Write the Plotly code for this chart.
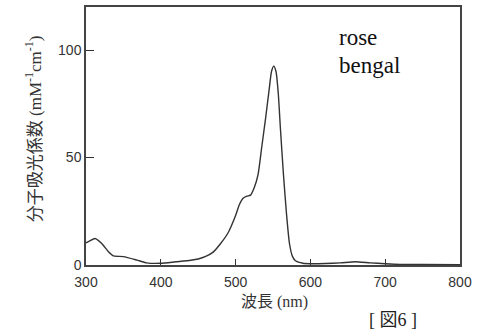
import plotly.graph_objects as go

wavelength = [300, 305, 312, 321, 330, 337, 350, 368, 381, 400, 420, 440, 450, 460, 470, 480,
              490, 500, 505, 510, 515, 520, 525, 530, 535, 540, 545, 548, 551, 554, 557, 560,
              564, 568, 572, 576, 580, 590, 600, 620, 640, 660, 680, 700, 720, 750, 800]
epsilon = [10.3, 11.2, 12.3, 10.0, 6.2, 4.2, 3.9, 2.3, 1.0, 0.8, 1.5, 2.2, 2.8, 4.0, 6.0, 10.0,
           15.0, 23.0, 28.0, 31.0, 32.0, 32.5, 36.0, 42.0, 55.0, 68.0, 82.0, 90.0, 92.5, 90.0, 80.0, 63.0,
           42.0, 24.0, 10.0, 4.0, 2.0, 0.8, 0.6, 0.7, 1.0, 1.5, 1.0, 0.6, 0.3, 0.2, 0.1]

x_ticks = [300, 400, 500, 600, 700, 800]
y_ticks = [0, 50, 100]

fig = go.Figure()
fig.add_trace(go.Scatter(x=wavelength, y=epsilon, mode="lines",
                         line=dict(color="#333333", width=1.4, shape="spline", smoothing=0.6),
                         hoverinfo="skip", showlegend=False))

axis_common = dict(showgrid=False, zeroline=False, showline=True, linecolor="#444444",
                   linewidth=1.5, mirror=True, ticks="inside", tickcolor="#333333",
                   tickfont=dict(family="Liberation Sans, Arial, sans-serif", size=14, color="#333333"))
fig.update_xaxes(range=[300, 800], tickvals=x_ticks, ticklen=6, ticklabelstandoff=3, **axis_common)
fig.update_yaxes(range=[0, 120], tickvals=y_ticks, ticklen=8, **axis_common)

serif = "Liberation Serif, Times New Roman, serif"
cjk = "Noto Sans CJK JP, sans-serif"
fig.update_layout(
    width=479, height=332,
    margin=dict(l=86, r=19, t=5, b=67),
    paper_bgcolor="white", plot_bgcolor="white",
    annotations=[
        dict(text=f"<span style='font-family:{cjk}'>分子吸光係数</span> (mM<sup>-1</sup>cm<sup>-1</sup>)",
             xref="paper", yref="paper", x=-0.142, y=0.53, textangle=-90, showarrow=False,
             xanchor="center", yanchor="middle",
             font=dict(family=serif, size=17, color="#333333")),
        dict(text=f"<span style='font-family:{cjk}'>波長</span> (nm)",
             xref="paper", yref="paper", x=0.505, y=-0.135, showarrow=False,
             xanchor="center", yanchor="middle",
             font=dict(family=serif, size=16, color="#333333")),
        dict(text=f"[ <span style='font-family:{cjk}'>図</span>6 ]",
             xref="paper", yref="paper", x=0.82, y=-0.205, showarrow=False,
             xanchor="center", yanchor="middle",
             font=dict(family=serif, size=18, color="#222222")),
        dict(text="rose", xref="x", yref="y", x=635, y=106, xanchor="left", yanchor="middle",
             showarrow=False, font=dict(family=serif, size=23, color="#111111")),
        dict(text="bengal", xref="x", yref="y", x=635, y=92.8, xanchor="left", yanchor="middle",
             showarrow=False, font=dict(family=serif, size=23, color="#111111")),
    ],
)

fig.write_html("out.html", config={"displayModeBar": False},
               post_script="document.body.style.margin='0';")
